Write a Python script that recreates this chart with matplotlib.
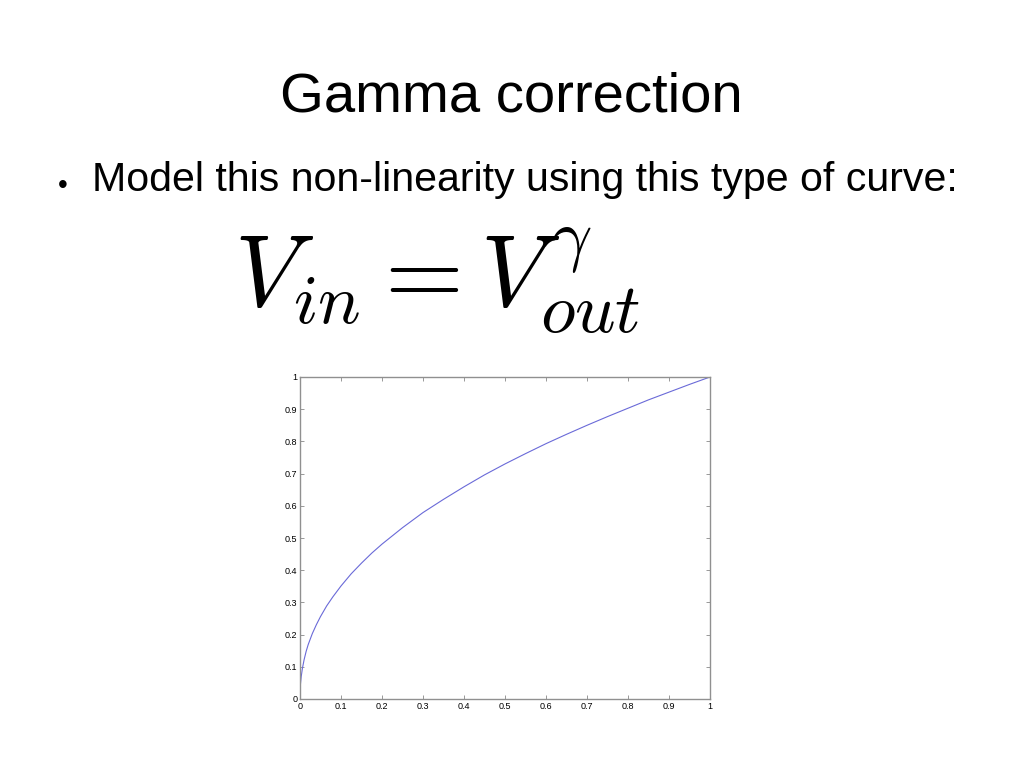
import matplotlib.pyplot as plt
import numpy as np

# curve (V_out vs V_in)
v_in = [0.001, 0.003, 0.006, 0.01, 0.015, 0.02, 0.03, 0.04, 0.05, 0.065, 0.08,
        0.1, 0.125, 0.15, 0.175, 0.2, 0.25, 0.3, 0.35, 0.4, 0.45, 0.5, 0.55,
        0.6, 0.65, 0.7, 0.75, 0.8, 0.85, 0.9, 0.95, 1.0]
v_out = [0.045, 0.07, 0.096, 0.122, 0.148, 0.169, 0.203, 0.231, 0.256, 0.289, 0.317,
         0.351, 0.389, 0.422, 0.453, 0.481, 0.532, 0.579, 0.620, 0.659, 0.696, 0.730, 0.762,
         0.793, 0.822, 0.850, 0.877, 0.903, 0.929, 0.953, 0.977, 1.0]
tick_vals = [0, 0.1, 0.2, 0.3, 0.4, 0.5, 0.6, 0.7, 0.8, 0.9, 1]
tick_labels = ["0", "0.1", "0.2", "0.3", "0.4", "0.5", "0.6", "0.7", "0.8", "0.9", "1"]

plt.rcParams['font.family'] = ['Liberation Sans', 'DejaVu Sans']
plt.rcParams['mathtext.fontset'] = 'cm'

fig = plt.figure(figsize=(10.23, 7.67), dpi=100)

# slide text
fig.text(0.5, 1 - 98 / 767, "Gamma correction", ha='center', va='center', fontsize=40.5)
fig.text(63 / 1023, 1 - 186 / 767, "\u2022", ha='center', va='center', fontsize=20)
fig.text(92 / 1023, 1 - 180 / 767, "Model this non-linearity using this type of curve:",
         ha='left', va='center', fontsize=29.6)
fig.text(437 / 1023, 1 - 281 / 767, r"$V_{in} = V_{out}^{\gamma}$",
         ha='center', va='center', fontsize=73)

ax = fig.add_axes([300 / 1023, 68 / 767, 410 / 1023, 322 / 767])
ax.plot(v_in, v_out, color='#6a6ad8', linewidth=0.8)
ax.set_xlim(0, 1)
ax.set_ylim(0, 1)
ax.set_xticks(tick_vals)
ax.set_xticklabels(tick_labels)
ax.set_yticks(tick_vals)
ax.set_yticklabels(tick_labels)
ax.tick_params(direction='in', top=True, right=True, length=3, width=0.6,
               color='#888888', labelsize=6.5, pad=2)
for s in ax.spines.values():
    s.set_color('#909090')
    s.set_linewidth(1.0)

fig.savefig("out.png", dpi=100)
